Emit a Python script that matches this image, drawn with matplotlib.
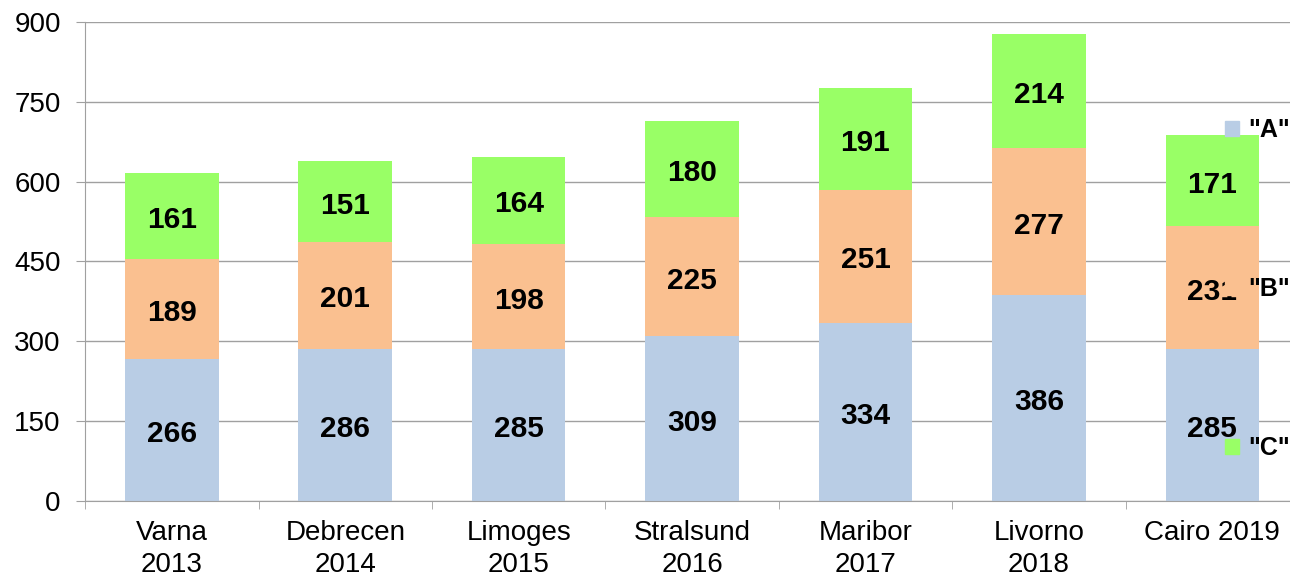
import matplotlib.pyplot as plt
from matplotlib.patches import Patch
import numpy as np

plt.rcParams['font.family'] = ['Liberation Sans', 'DejaVu Sans']

categories = ["Varna\n2013", "Debrecen\n2014", "Limoges\n2015", "Stralsund\n2016",
              "Maribor\n2017", "Livorno\n2018", "Cairo 2019"]
series_a = [266, 286, 285, 309, 334, 386, 285]
series_b = [189, 201, 198, 225, 251, 277, 231]
series_c = [161, 151, 164, 180, 191, 214, 171]
series_names = ['"A"', '"B"', '"C"']
colors = ["#B9CDE5", "#FAC090", "#99FF66"]
yticks = [0, 150, 300, 450, 600, 750, 900]

fig = plt.figure(figsize=(12.9, 5.77), dpi=100)
ax = fig.add_axes([0.066, 0.132, 0.941, 0.830])

x = np.arange(len(categories))
width = 0.54
bottom = np.zeros(len(categories))
for vals, col in zip([series_a, series_b, series_c], colors):
    b = ax.bar(x, vals, width, bottom=bottom, color=col, zorder=2)
    ax.bar_label(b, labels=[str(v) for v in vals], label_type='center',
                 fontsize=21.5, fontweight='bold', color='black', padding=-3)
    bottom += np.array(vals)

ax.set_xlim(-0.5, len(categories) - 0.5)
ax.set_ylim(0, 900)
ax.set_yticks(yticks)
ax.tick_params(axis='y', labelsize=20, length=6.5, color='#A0A0A0', pad=11)
ax.grid(axis='y', color='#A0A0A0', linewidth=1, zorder=0)

# category labels centered, ticks at the boundaries between them
ax.set_xticks(x)
ax.set_xticklabels(categories, fontsize=20, linespacing=1.3)
ax.tick_params(axis='x', length=0, pad=14)
ax.set_xticks(np.arange(len(categories) + 1) - 0.5, minor=True)
ax.tick_params(axis='x', which='minor', length=6, color='#A0A0A0')

for s in ['top', 'right']:
    ax.spines[s].set_visible(False)
for s in ['left', 'bottom']:
    ax.spines[s].set_color('#A0A0A0')

handles = [Patch(color=c) for c in colors]
leg = ax.legend(handles, series_names, loc='upper left', bbox_to_anchor=(0.931, 0.82),
                frameon=False, prop={'size': 18, 'weight': 'bold'},
                handlelength=0.55, handleheight=0.55, handletextpad=0.35,
                labelspacing=5.4, borderaxespad=0)
leg.set_zorder(5)

fig.savefig("out.png", dpi=100)
